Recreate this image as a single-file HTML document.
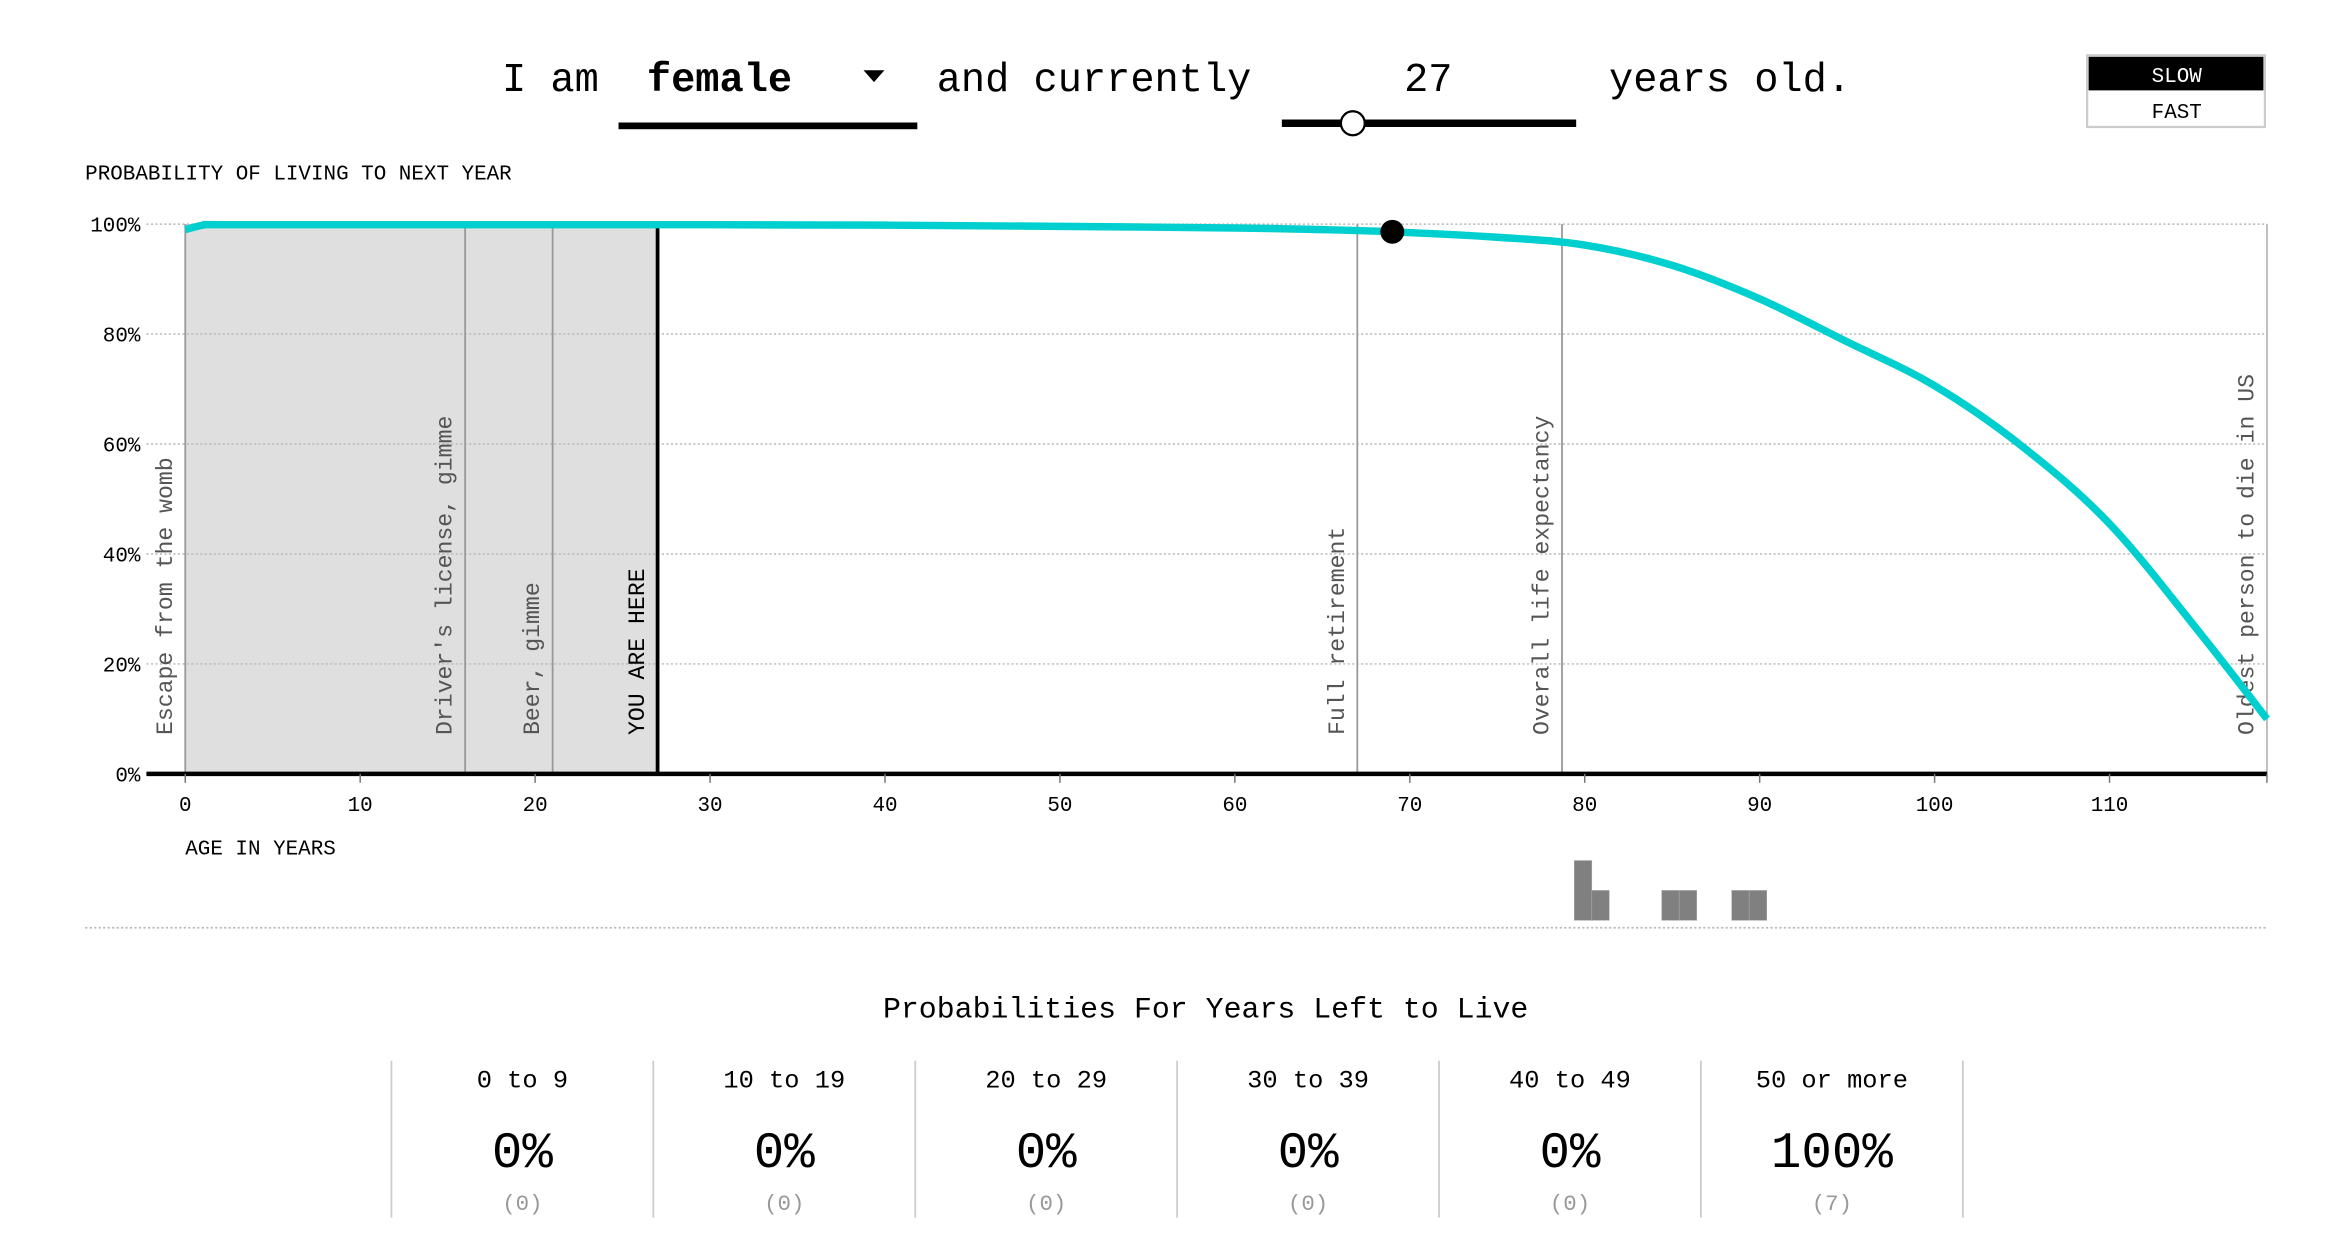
<!DOCTYPE html>
<html><head><meta charset="utf-8">
<style>
html,body{margin:0;padding:0;background:#fff;width:2342px;height:1248px;overflow:hidden}
svg{display:block}
text{font-family:"Liberation Mono","DejaVu Sans Mono",monospace}
</style></head>
<body>
<svg id="root" width="2342" height="1248" viewBox="0 0 1567.6 835.3" preserveAspectRatio="xMinYMin meet" xmlns="http://www.w3.org/2000/svg">
  <g font-size="27" fill="#000">
    <text x="336" y="61">I am</text>
    <g>
      <text x="433" y="61" font-weight="bold">female</text>
      <path d="M578 47 L592 47 L585 55 Z" fill="#000"/>
      <rect x="414" y="82" width="200" height="4.5" fill="#000"/>
    </g>
    <text x="627" y="61">and currently</text>
    <text x="956" y="61" text-anchor="middle">27</text>
    <g>
      <rect x="858" y="80" width="197" height="5" fill="#000"/>
      <circle cx="905.5" cy="82.5" r="8" fill="#fff" stroke="#000" stroke-width="1.5"/>
    </g>
    <text x="1077" y="61">years old.</text>
  </g>
  <g>
    <rect x="1397" y="37" width="119" height="48" fill="#fff" stroke="#ccc" stroke-width="1.5"/>
    <rect x="1398" y="38" width="117" height="22.5" fill="#000"/>
    <text x="1457" y="55" text-anchor="middle" font-size="14" fill="#fff">SLOW</text>
    <text x="1457" y="79" text-anchor="middle" font-size="14" fill="#000">FAST</text>
  </g>
  <text x="57" y="120" font-size="14">PROBABILITY OF LIVING TO NEXT YEAR</text>
  <g id="chart"></g>
  <g id="hist"></g>
  <line x1="57" y1="621" x2="1517" y2="621" stroke="#bbb" stroke-width="1.2" stroke-dasharray="1.5 1.5"/>
  <text x="807" y="681" text-anchor="middle" font-size="20">Probabilities For Years Left to Live</text>
  <g id="summary"></g>
</svg>
<script>
var NS='http://www.w3.org/2000/svg';
// ---- data ----
var ages=[0,1,2,10,20,30,40,50,60,65,69,75,80,85,90,95,100,105,110,115,119];
var survival=[99.0,99.8,99.9,99.9,99.9,99.9,99.8,99.6,99.3,99.0,98.6,97.6,96.2,92.5,86.4,78.6,70.6,59.6,45.5,26.3,10.0];
var xTicks=[0,10,20,30,40,50,60,70,80,90,100,110];
var yTicks=[0,20,40,60,80,100];
var markerAges=[0,16,21,67,78.7];
var markerLabels=["Escape from the womb","Driver's license, gimme","Beer, gimme","Full retirement","Overall life expectancy"];
var currentAge=27;
var oldestAge=119;
var dotAge=69;
var histAges=[80,81,85,86,89,90];
var histCounts=[2,1,1,1,1,1];
var bucketLabels=["0 to 9","10 to 19","20 to 29","30 to 39","40 to 49","50 or more"];
var bucketPct=["0%","0%","0%","0%","0%","100%"];
var bucketCounts=[0,0,0,0,0,7];
// ---- scales ----
function X(a){return 124+a*(1412-124)/110;}
function Y(p){return 518-p*(518-150)/100;}
function mk(tag,attrs,parent){var e=document.createElementNS(NS,tag);for(var k in attrs)e.setAttribute(k,attrs[k]);parent.appendChild(e);return e;}
function interp(a){for(var i=1;i<ages.length;i++){if(a<=ages[i]){var t=(a-ages[i-1])/(ages[i]-ages[i-1]);return survival[i-1]+t*(survival[i]-survival[i-1]);}}return survival[survival.length-1];}
var ch=document.getElementById('chart');
var shade=mk('rect',{x:X(0),y:Y(100),width:X(currentAge)-X(0),height:Y(0)-Y(100),fill:'#dfdfdf'},ch);


yTicks.forEach(function(t){
  var g=mk('line',{x1:98,x2:X(oldestAge),y1:Y(t),y2:Y(t),stroke:'#bbb','stroke-width':1,'stroke-dasharray':'1.5 1.5'},ch);
  
  
  var tx=mk('text',{x:94,y:Y(t)+5,'text-anchor':'end','font-size':14},ch);tx.textContent=t+'%';
  
  
});
var rl=mk('line',{x1:X(oldestAge),x2:X(oldestAge),y1:Y(100),y2:Y(0),stroke:'#aaa','stroke-width':1},ch);


markerAges.forEach(function(a,i){
  var l=mk('line',{x1:X(a),x2:X(a),y1:Y(100),y2:Y(0),stroke:'#999','stroke-width':1.2},ch);
  
  
  var tx=mk('text',{transform:'translate('+(X(a)-9)+',492) rotate(-90)','font-size':15.5,fill:'#555'},ch);tx.textContent=markerLabels[i];
  
  
});
var ot=mk('text',{transform:'translate('+(X(oldestAge)-9)+',492) rotate(-90)','font-size':15.5,fill:'#555'},ch);ot.textContent='Oldest person to die in US';


var yl=mk('line',{x1:X(currentAge),x2:X(currentAge),y1:Y(100),y2:Y(0),stroke:'#000','stroke-width':2.5},ch);


var yt=mk('text',{transform:'translate('+(X(currentAge)-9)+',492) rotate(-90)','font-size':15.5,fill:'#000'},ch);yt.textContent='YOU ARE HERE';


var ax=mk('line',{x1:98,x2:X(oldestAge),y1:Y(0),y2:Y(0),stroke:'#000','stroke-width':3},ch);


xTicks.forEach(function(t){
  var tk=mk('line',{x1:X(t),x2:X(t),y1:Y(0),y2:Y(0)+6,stroke:'#777','stroke-width':1},ch);
  
  
  var tx=mk('text',{x:X(t),y:543,'text-anchor':'middle','font-size':14},ch);tx.textContent=t;
  
  
});
var et=mk('line',{x1:X(oldestAge),x2:X(oldestAge),y1:Y(0),y2:Y(0)+6,stroke:'#777','stroke-width':1},ch);


var xt=mk('text',{x:124,y:572,'font-size':14},ch);xt.textContent='AGE IN YEARS';


var P=ages.map(function(a,i){return [X(a),Y(survival[i])];});
var d='M'+P[0][0].toFixed(1)+' '+P[0][1].toFixed(1);
for(var i=0;i<P.length-1;i++){
  var p0=P[i-1]||P[i],p1=P[i],p2=P[i+1],p3=P[i+2]||P[i+1];
  var c1=[p1[0]+(p2[0]-p0[0])/6,p1[1]+(p2[1]-p0[1])/6],c2=[p2[0]-(p3[0]-p1[0])/6,p2[1]-(p3[1]-p1[1])/6];
  d+='C'+c1[0].toFixed(1)+' '+c1[1].toFixed(1)+' '+c2[0].toFixed(1)+' '+c2[1].toFixed(1)+' '+p2[0].toFixed(1)+' '+p2[1].toFixed(1);
}
var path=mk('path',{d:d,fill:'none',stroke:'#00cfcf','stroke-width':5,'stroke-linejoin':'round'},ch);


var dot=mk('circle',{cx:X(dotAge),cy:Y(interp(dotAge)),r:8,fill:'#000'},ch);


var h=document.getElementById('hist');var unit=20,bw=(X(1)-X(0));
histAges.forEach(function(a,i){
  var r=mk('rect',{x:X(a)-7,y:616-histCounts[i]*unit,width:bw,height:histCounts[i]*unit,fill:'#808080',stroke:'#aaa','stroke-width':0.4},h);
  
  
});
var s=document.getElementById('summary');var cw=175.3,x0=262;
for(var i=0;i<=6;i++){
  var l=mk('line',{x1:x0+i*cw,x2:x0+i*cw,y1:710,y2:815,stroke:'#ccc','stroke-width':1.2},s);
  
  
}
bucketLabels.forEach(function(b,i){
  var cx=x0+cw*(i+0.5);
  var t1=mk('text',{x:cx,y:728,'text-anchor':'middle','font-size':17},s);t1.textContent=b;
  
  
  var t2=mk('text',{x:cx,y:781,'text-anchor':'middle','font-size':34},s);t2.textContent=bucketPct[i];
  
  
  var t3=mk('text',{x:cx,y:810,'text-anchor':'middle','font-size':15,fill:'#999'},s);t3.textContent='('+bucketCounts[i]+')';
  
  
});
</script>
</body></html>
